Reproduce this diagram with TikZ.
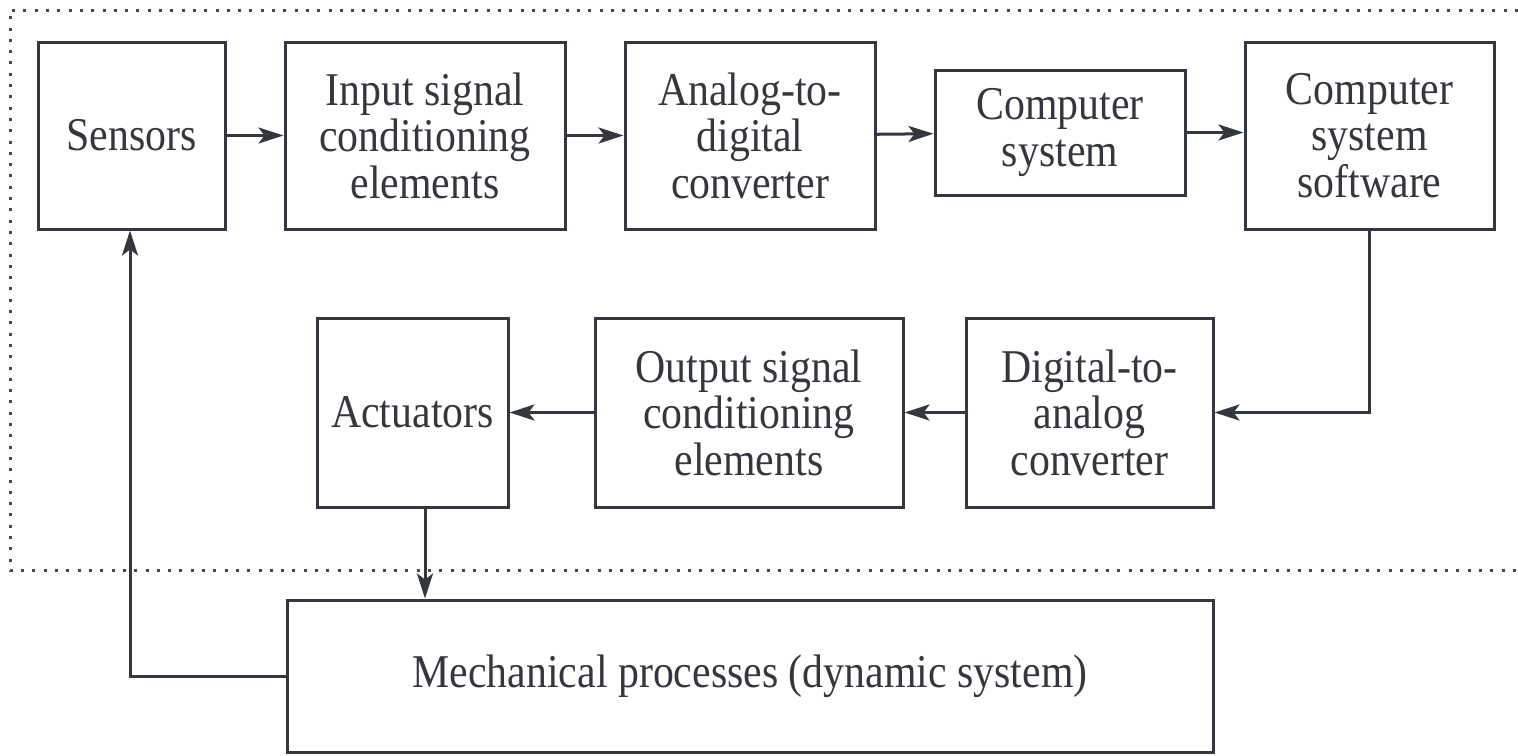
\documentclass[tikz,border=0pt]{standalone}
\usepackage{fontspec}
\setmainfont{Liberation Serif}[FakeStretch=0.89]
\usetikzlibrary{arrows.meta}
\definecolor{ink}{RGB}{52,55,61}
\definecolor{dotc}{RGB}{70,72,78}
\tikzset{
  blk/.style={draw=ink, line width=3pt, text=ink, align=center, inner sep=0pt,
    font=\fontsize{47}{46.5}\selectfont},
  arr/.style={draw=ink, line width=3pt, -{Stealth[length=25pt,width=16pt,inset=6pt]}},
  frame/.style={draw=dotc, line width=3pt, dash pattern=on 3pt off 8.3pt}
}
\begin{document}
\begin{tikzpicture}[x=1pt,y=-1pt]
\useasboundingbox (0,0) rectangle (1518,755);
% system boundary (open on the right)
\draw[frame] (1518,10) -- (10,10) -- (10,570) -- (1518,570);
% upper row
\node[blk, minimum width=187pt, minimum height=187pt] (sens) at (131.5,135.5) {Sensors};
\node[blk, minimum width=280pt, minimum height=187pt] (inp) at (425,135.5) {Input signal\\conditioning\\elements};
\node[blk, minimum width=250pt, minimum height=187pt] (adc) at (750,135.5) {Analog-to-\\digital\\converter};
\node[blk, minimum width=250pt, minimum height=125pt] (cs) at (1060,132.5) {Computer\\system};
\node[blk, minimum width=249pt, minimum height=187pt] (css) at (1369.5,135.5) {Computer\\system\\software};
% lower row
\node[blk, minimum width=191pt, minimum height=189pt] (act) at (412.5,412.5) {Actuators};
\node[blk, minimum width=308pt, minimum height=189pt] (out) at (749,412.5) {Output signal\\conditioning\\elements};
\node[blk, minimum width=247pt, minimum height=189pt] (dac) at (1089.5,412.5) {Digital-to-\\analog\\converter};
% plant
\node[blk, minimum width=926pt, minimum height=152pt] (mech) at (750,676) {Mechanical processes (dynamic system)};
% signal flow
\draw[arr] (sens) -- (inp);
\draw[arr] (inp) -- (adc);
\draw[arr] (adc) -- (cs);
\draw[arr] (cs.east) -- (css.west |- cs.east);
\draw[arr] (css.south) |- (dac.east);
\draw[arr] (dac) -- (out);
\draw[arr] (out) -- (act);
\draw[arr] ([xshift=12.5pt]act.south) -- ([xshift=12.5pt]act.south |- mech.north);
\draw[arr] (mech.west) -| ([xshift=-1.5pt]sens.south);
\end{tikzpicture}
\end{document}
